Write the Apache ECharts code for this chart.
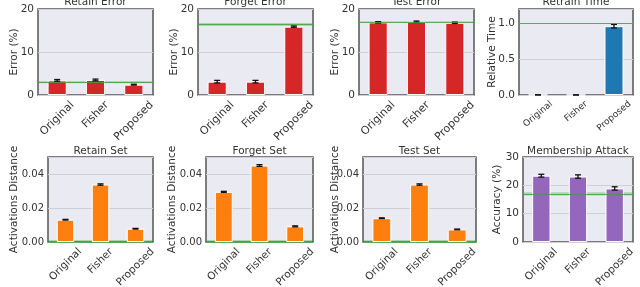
<!DOCTYPE html>
<html><head><meta charset="utf-8">
<script src="https://cdn.jsdelivr.net/npm/echarts@6/dist/echarts.min.js"></script>
<style>html,body{margin:0;padding:0;background:#fff}#c{width:640px;height:287px}</style>
</head><body><div id="c"></div>
<script>
const categories = ['Original', 'Fisher', 'Proposed'];
const titles = ['Retain Error', 'Forget Error', 'Test Error', 'Retrain Time', 'Retain Set', 'Forget Set', 'Test Set', 'Membership Attack'];
const yNames = ['Error (%)', 'Error (%)', 'Error (%)', 'Relative Time', 'Activations Distance', 'Activations Distance', 'Activations Distance', 'Accuracy (%)'];
const retainError = [3.4, 3.5, 2.4];
const retainErrorStd = [0.2, 0.2, 0.1];
const forgetError = [3.1, 3.1, 15.9];
const forgetErrorStd = [0.3, 0.3, 0.15];
const testError = [16.9, 17.05, 16.8];
const testErrorStd = [0.15, 0.15, 0.15];
const retrainTime = [0.002, 0.001, 0.96];
const retrainTimeStd = [0.0, 0.0, 0.025];
const retainSet = [0.0131, 0.0338, 0.0078];
const retainSetStd = [0.0002, 0.0004, 0.0002];
const forgetSet = [0.0295, 0.0450, 0.0092];
const forgetSetStd = [0.0003, 0.0005, 0.0003];
const testSet = [0.0140, 0.0338, 0.0074];
const testSetStd = [0.0002, 0.0004, 0.0002];
const membership = [23.4, 23.1, 18.9];
const membershipStd = [0.5, 0.6, 0.6];
// retrained-model reference (green line) and its band half-width
const refLine = [3.0, 16.4, 17.0, 1.0, 0.0006, 0.0006, 0.0006, 17.0];
const refBand = [0.25, 0.35, 0.15, 0.0, 0.0006, 0.0006, 0.0006, 0.6];
const yMax = [20, 20, 20, 1.2, 0.05, 0.05, 0.05, 30];
const yInterval = [10, 10, 10, 0.5, 0.02, 0.02, 0.02, 10];
const yDecimals = [0, 0, 0, 1, 2, 2, 2, 0];
const colors = ['#d62728', '#d62728', '#d62728', '#1f77b4', '#ff7f0e', '#ff7f0e', '#ff7f0e', '#9467bd'];

const values = [retainError, forgetError, testError, retrainTime, retainSet, forgetSet, testSet, membership];
const stds = [retainErrorStd, forgetErrorStd, testErrorStd, retrainTimeStd, retainSetStd, forgetSetStd, testSetStd, membershipStd];

const grids = [
  {left: 38, top: 9, width: 115, height: 86},
  {left: 198, top: 9, width: 115, height: 86},
  {left: 359, top: 9, width: 115, height: 86},
  {left: 519, top: 9, width: 114, height: 86},
  {left: 48, top: 157, width: 105, height: 85},
  {left: 206, top: 157, width: 107, height: 85},
  {left: 363, top: 157, width: 113, height: 85},
  {left: 523, top: 157, width: 110, height: 85}
];
const nameGaps = [18, 18, 18, 21, 28, 28, 22, 20];
const yFont = [10.5, 10.5, 10.5, 10.5, 10, 10, 10, 10.5];
const xFont = [11, 11, 11, 9, 10.5, 10.5, 10.5, 10.5];
const xRot = [45, 45, 45, 40, 45, 45, 45, 45];
const txt = '#333';
const font = 'DejaVu Sans';
const mctx = document.createElement('canvas').getContext('2d');
function textW(t, fs) { mctx.font = fs + 'px "' + font + '"'; return mctx.measureText(t).width; }

const option = {
  animation: false,
  backgroundColor: '#fff',
  textStyle: {fontFamily: font},
  title: [], grid: [], xAxis: [], yAxis: [], series: []
};
grids.forEach((g, i) => {
  option.grid.push(Object.assign({show: true, backgroundColor: '#EAEAF2', borderColor: '#555', borderWidth: 1.5, containLabel: false}, g));
  option.title.push({
    text: titles[i], left: g.left + g.width / 2, top: i < 4 ? -3 : 146, textAlign: 'center', padding: 0,
    textStyle: {fontFamily: font, fontSize: 10.5, fontWeight: 'normal', color: txt}
  });
  option.xAxis.push({
    type: 'category', gridIndex: i, data: categories,
    axisLine: {show: false}, axisTick: {show: false}, axisLabel: {show: false}
  });
  const dec = yDecimals[i], itv = yInterval[i];
  option.yAxis.push({
    type: 'value', gridIndex: i, min: 0, max: yMax[i], interval: itv,
    name: yNames[i], nameLocation: 'middle', nameGap: nameGaps[i], nameMoveOverlap: false,
    nameTextStyle: {fontFamily: font, fontSize: 10.5, color: txt},
    axisLine: {show: false}, axisTick: {show: false},
    splitLine: {lineStyle: {color: '#cfcfd4', width: 1}},
    axisLabel: {
      fontFamily: font, fontSize: yFont[i], color: txt, margin: 4, showMaxLabel: true,
      formatter: v => {
        const k = v / itv;
        if (Math.abs(k - Math.round(k)) > 1e-6) return '';
        return v.toFixed(dec);
      }
    }
  });
  option.series.push({
    type: 'bar', xAxisIndex: i, yAxisIndex: i, data: values[i], barWidth: '50%',
    itemStyle: {color: colors[i], borderColor: '#fff', borderWidth: 1}, z: 2
  });
  const eb = values[i].map((v, j) => [j, v - stds[i][j], v + stds[i][j]]);
  const s = {
    type: 'custom', xAxisIndex: i, yAxisIndex: i, data: eb, z: 3,
    renderItem: (params, api) => {
      const x = api.value(0);
      const lo = api.coord([x, api.value(1)]);
      const hi = api.coord([x, api.value(2)]);
      const w = 3;
      const st = {stroke: '#111', lineWidth: 1.3};
      return {type: 'group', children: [
        {type: 'line', shape: {x1: lo[0], y1: lo[1], x2: hi[0], y2: hi[1]}, style: st},
        {type: 'line', shape: {x1: lo[0] - w, y1: lo[1], x2: lo[0] + w, y2: lo[1]}, style: st},
        {type: 'line', shape: {x1: hi[0] - w, y1: hi[1], x2: hi[0] + w, y2: hi[1]}, style: st}
      ]};
    },
    markLine: {
      silent: true, symbol: 'none', label: {show: false},
      lineStyle: {color: 'rgba(60,160,60,0.8)', width: 1.2, type: 'solid'},
      data: [{yAxis: refLine[i]}]
    }
  };
  if (refBand[i] > 0) {
    s.markArea = {silent: true, itemStyle: {color: 'rgba(60,170,60,0.35)'},
      data: [[{yAxis: Math.max(0, refLine[i] - refBand[i])}, {yAxis: refLine[i] + refBand[i]}]]};
  }
  option.series.push(s);
  // x tick labels: rotated, bounding box centred on the tick (matplotlib style)
  const fs = xFont[i], th = xRot[i] * Math.PI / 180;
  option.series.push({
    type: 'custom', xAxisIndex: i, yAxisIndex: i, clip: false, z: 5,
    data: categories.map((c, j) => [j, 0]),
    renderItem: (params, api) => {
      const j = api.value(0);
      const p = api.coord([j, 0]);
      const label = categories[j];
      const w = textW(label, fs), h = fs * 1.1;
      const H = w * Math.sin(th) + h * Math.cos(th);
      return {type: 'text', x: p[0], y: p[1] + 4 + H / 2, rotation: th,
        style: {text: label, align: 'center', verticalAlign: 'middle', fill: txt, font: fs + 'px "' + font + '"'}};
    }
  });
});
const chart = echarts.init(document.getElementById('c'), null, {renderer: 'canvas'});
chart.setOption(option);
</script></body></html>
